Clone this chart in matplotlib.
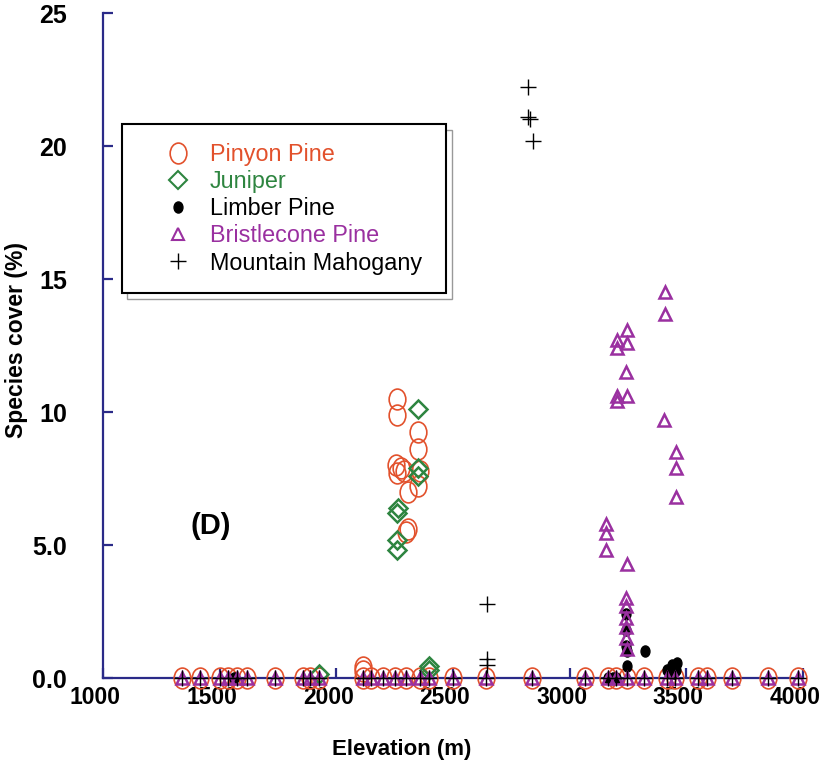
import numpy as np
import matplotlib
matplotlib.use("Agg")
import matplotlib.pyplot as plt
from matplotlib.markers import MarkerStyle
from matplotlib.transforms import Affine2D, ScaledTranslation
from matplotlib.lines import Line2D

plt.rcParams['font.family'] = ['Liberation Sans', 'DejaVu Sans']

# sites where every species sits at 0 cover
zero_sites = [1340, 1415, 1500, 1535, 1573, 1617, 1735, 1855, 1885, 1925,
              2115, 2150, 2200, 2250, 2300, 2360, 2395, 2500, 2640, 2840,
              3065, 3165, 3200, 3245, 3320, 3415, 3450, 3550, 3590, 3695,
              3850, 3980]

# Pinyon Pine (non-zero)
pinyon_elev = [2260, 2260, 2350, 2350, 2255, 2275, 2290, 2262, 2358, 2350,
               2305, 2305, 2300, 2115, 2115]
pinyon_cover = [10.5, 9.9, 9.25, 8.6, 8.0, 7.9, 7.8, 7.7, 7.8, 7.2,
                7.0, 5.6, 5.5, 0.4, 0.25]

# Juniper
juniper_elev = [2350, 2350, 2350, 2264, 2260, 2262, 2262, 1926, 2398, 2398]
juniper_cover = [10.1, 7.9, 7.6, 6.4, 6.2, 5.2, 4.8, 0.15, 0.3, 0.45]

# Limber Pine
limber_elev = [3240, 3240, 3240, 3246, 3246, 3323, 3417, 3440, 3455, 3460, 3445,
               1560, 3165, 3185, 3200]
limber_cover = [2.4, 1.8, 1.2, 1.0, 0.45, 1.0, 0.3, 0.5, 0.3, 0.55, 0.2,
                0, 0, 0, 0]

# Bristlecone Pine
bristle_elev = [3409, 3409, 3246, 3203, 3246, 3203, 3240, 3203, 3246, 3203,
                3405, 3456, 3456, 3456, 3156, 3156, 3156, 3246, 3240, 3240,
                3240, 3240, 3240, 3246]
bristle_cover = [14.5, 13.7, 13.1, 12.7, 12.6, 12.4, 11.5, 10.6, 10.6, 10.4,
                 9.7, 8.5, 7.9, 6.8, 5.8, 5.45, 4.8, 4.3, 3.0, 2.7,
                 2.25, 1.9, 1.5, 1.1]

# Mountain Mahogany
mahog_elev = [2821, 2821, 2830, 2843, 2646, 2646, 2646]
mahog_cover = [22.2, 21.1, 21.0, 20.2, 2.8, 0.7, 0.5]

x_ticks = [1000, 1500, 2000, 2500, 3000, 3500, 4000]
y_ticks = [0, 5, 10, 15, 20, 25]
y_ticklabels = ['0.0', '5.0', '10', '15', '20', '25']
labels = ['Pinyon Pine', 'Juniper', 'Limber Pine', 'Bristlecone Pine', 'Mountain Mahogany']

navy = '#2a2a88'
c_pinyon = '#e2512c'
c_juniper = '#2e8540'
c_bristle = '#9a30a0'

fig = plt.figure(figsize=(8.22, 7.65), dpi=100)
ax = fig.add_axes([0.1253, 0.1137, 0.8516, 0.8693])

ellipse = MarkerStyle('o', transform=Affine2D().scale(0.8, 1.0))

z = [0] * len(zero_sites)

ax.plot(zero_sites + pinyon_elev, z + pinyon_cover, ls='none', marker=ellipse,
        ms=15, mfc='none', mec=c_pinyon, mew=1.2, clip_on=False, zorder=3)
ax.plot(juniper_elev, juniper_cover, ls='none', marker='D', ms=9,
        mfc='none', mec=c_juniper, mew=1.8, clip_on=False, zorder=3)
ax.plot(limber_elev, limber_cover, ls='none', marker=ellipse, ms=8,
        mfc='black', mec='black', clip_on=False, zorder=4)
ax.plot(zero_sites + bristle_elev, z + bristle_cover, ls='none', marker='^', ms=9,
        mfc='none', mec=c_bristle, mew=1.8, clip_on=False, zorder=4)
ax.plot(zero_sites + mahog_elev, z + mahog_cover, ls='none', marker='+', ms=11,
        mec='black', mew=1.0, clip_on=False, zorder=5)

ax.set_xlim(1000, 4000)
ax.set_ylim(0, 25)
ax.set_xticks(x_ticks)
ax.set_yticks(y_ticks)
ax.set_yticklabels(y_ticklabels)

for s in ['top', 'right']:
    ax.spines[s].set_visible(False)
for s in ['left', 'bottom']:
    ax.spines[s].set_color(navy)
    ax.spines[s].set_linewidth(1.6)

ax.tick_params(axis='both', direction='in', length=7, width=1.6, color=navy)
ax.tick_params(axis='y', pad=26, labelsize=18)
ax.tick_params(axis='x', pad=6, labelsize=16.5)
shift = ScaledTranslation(-8 / 100, 0, fig.dpi_scale_trans)
for lab in ax.get_xticklabels():
    lab.set_fontweight('bold')
    lab.set_transform(lab.get_transform() + shift)
for lab in ax.get_yticklabels():
    lab.set_fontweight('bold')

ax.set_xlabel('Elevation (m)', fontsize=16, fontweight='bold')
ax.xaxis.set_label_coords(0.426, -0.092)
ax.set_ylabel('Species cover (%)', fontsize=16.5, fontweight='bold')
ax.yaxis.set_label_coords(-0.107, 0.508)

ax.text(1463, 5.7, '(D)', fontsize=21, fontweight='bold', ha='center', va='center')

handles = [
    Line2D([], [], ls='none', marker=ellipse, ms=15, mfc='none', mec=c_pinyon, mew=1.2),
    Line2D([], [], ls='none', marker='D', ms=9, mfc='none', mec=c_juniper, mew=1.5),
    Line2D([], [], ls='none', marker=ellipse, ms=8, mfc='black', mec='black'),
    Line2D([], [], ls='none', marker='^', ms=9, mfc='none', mec=c_bristle, mew=1.5),
    Line2D([], [], ls='none', marker='+', ms=11, mec='black', mew=1.0),
]
leg = ax.legend(handles, labels, loc='upper left', bbox_to_anchor=(0.027, 0.5, 0.463, 0.333),
                mode='expand', borderaxespad=0, fontsize=16.8, frameon=True, fancybox=False,
                borderpad=0.8, handlelength=3.2, handletextpad=-0.22, labelspacing=0.18,
                shadow={'ox': 4, 'oy': -4, 'facecolor': 'white', 'edgecolor': '#999999',
                        'alpha': 1, 'linewidth': 1.0})
leg.get_frame().set_edgecolor('black')
leg.get_frame().set_linewidth(1.5)
for t, c in zip(leg.get_texts(), [c_pinyon, c_juniper, 'black', c_bristle, 'black']):
    t.set_color(c)

fig.savefig('out.png', dpi=100)
